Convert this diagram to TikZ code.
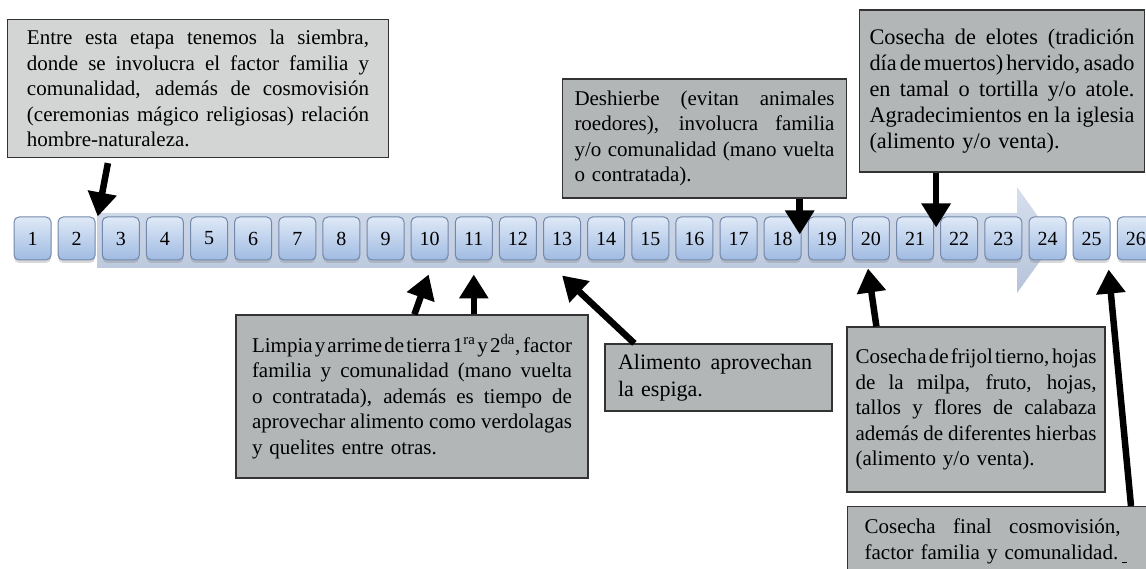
\documentclass[tikz,border=0pt]{standalone}
\usepackage{fontspec}
\setmainfont{Liberation Serif}
\usetikzlibrary{positioning,calc,arrows.meta,shadows}
\setlength{\parindent}{0pt}
\definecolor{numtop}{HTML}{DFE9F7}
\definecolor{numbot}{HTML}{A0BBE2}
\definecolor{numline}{HTML}{7388AA}
\definecolor{notefill}{HTML}{B3B6B7}
\definecolor{entrefill}{HTML}{D3D4D4}
\definecolor{notedraw}{HTML}{333333}
\definecolor{bandtop}{HTML}{D6DFEE}
\definecolor{bandbot}{HTML}{B6C3D9}
% one justified line of a note
\newcommand{\jline}[2][\hsize]{{\spaceskip=.25em plus 1em minus .22em\makebox[#1][s]{#2}}\\}

\begin{document}
\begin{tikzpicture}[x=1pt,y=-1pt,node distance=44.13pt,
	num/.style = {draw=numline, line width=1pt, rounded corners=5pt, top color=numtop, bottom color=numbot,
		minimum width=37pt, minimum height=43pt, inner sep=0pt, font=\fontsize{20pt}{24pt}\selectfont,
		drop shadow={shadow xshift=0pt, shadow yshift=-3pt, opacity=.3}},
	note/.style = {draw=notedraw, line width=1.2pt, fill=notefill, align=left, inner ysep=4pt,
		font=\fontsize{21pt}{25.5pt}\selectfont},
	pointer/.style = {line width=6.5pt, -{Triangle[width=28pt,length=24pt]}}]
	\useasboundingbox (0,0) rectangle (1146,569);
	\clip (0,0) rectangle (1146,569);
	% big arrow behind the weeks
	\shade[top color=bandtop, bottom color=bandbot] (97,213) -- (1017,213) -- (1017,187) -- (1055,240.5)
		-- (1017,293) -- (1017,268) -- (97,268) -- cycle;
	% weeks
	\node[num] (1) at (32.5,238.5) {1};
	\node[num] (2) [right of=1] {2};
	\node[num] (3) [right of=2] {3};
	\node[num] (4) [right of=3] {4};
	\node[num] (5) [right of=4] {5};
	\node[num] (6) [right of=5] {6};
	\node[num] (7) [right of=6] {7};
	\node[num] (8) [right of=7] {8};
	\node[num] (9) [right of=8] {9};
	\node[num] (10) [right of=9] {10};
	\node[num] (11) [right of=10] {11};
	\node[num] (12) [right of=11] {12};
	\node[num] (13) [right of=12] {13};
	\node[num] (14) [right of=13] {14};
	\node[num] (15) [right of=14] {15};
	\node[num] (16) [right of=15] {16};
	\node[num] (17) [right of=16] {17};
	\node[num] (18) [right of=17] {18};
	\node[num] (19) [right of=18] {19};
	\node[num] (20) [right of=19] {20};
	\node[num] (21) [right of=20] {21};
	\node[num] (22) [right of=21] {22};
	\node[num] (23) [right of=22] {23};
	\node[num] (24) [right of=23] {24};
	\node[num] (25) [right of=24] {25};
	\node[num] (26) [right of=25] {26};
	% notes
	\node[note, fill=entrefill, text width=342pt, inner xsep=19.5pt, minimum height=138pt] (entre) at (198,88.5)
		{\jline{Entre esta etapa tenemos la siembra,}\jline{donde se involucra el factor familia y}\jline{comunalidad, además de cosmovisión}\jline{(ceremonias mágico religiosas) relación}hombre-naturaleza.};
	\node[note, text width=260pt, inner xsep=12pt, minimum height=119pt] (deshierbe) at (704.5,138.5)
		{\jline{Deshierbe (evitan animales}\jline{roedores), involucra familia}\jline{y/o comunalidad (mano vuelta}o contratada).};
	\node[note, text width=265pt, inner xsep=10pt, minimum height=162pt, font=\fontsize{22.3pt}{26pt}\selectfont] (elotes) at (1002,91)
		{\jline{Cosecha de elotes (tradición}\jline{día de muertos) hervido, asado}\jline{en tamal o tortilla y/o atole.}\jline{Agradecimientos en la iglesia}(alimento y/o venta).};
	\node[note, text width=320pt, inner xsep=16pt, minimum height=163pt] (limpia) at (412,396.5)
		{\jline{Limpia y arrime de tierra 1\textsuperscript{ra} y 2\textsuperscript{da}, factor}\jline{familia y comunalidad (mano vuelta}\jline{o contratada), además es tiempo de}\jline{aprovechar alimento como verdolagas}y quelites entre otras.};
	\node[note, text width=201pt, inner xsep=13pt, minimum height=67pt, font=\fontsize{22pt}{27pt}\selectfont] (alimento) at (718.5,377.5)
		{\jline[194pt]{Alimento aprovechan}la espiga.};
	\node[note, text width=241pt, inner xsep=8.5pt, minimum height=165pt] (frijol) at (976,409.5)
		{\jline{Cosecha de frijol tierno, hojas}\jline{de la milpa, fruto, hojas,}\jline{tallos y flores de calabaza}\jline{además de diferentes hierbas}(alimento y/o venta).};
	\node[note, text width=290pt, inner xsep=17pt, minimum height=70pt, anchor=north west] (final) at (847,506)
		{\jline[256pt]{Cosecha final cosmovisión,}factor familia y comunalidad.\,\rule[-3pt]{5pt}{.7pt}};
	% pointers
	\draw[pointer] ($(entre.south west)+(101,5)$) -- ($(3.north west)+(-4,0)$);
	\draw[pointer] ($(deshierbe.south -| 18.east)+(-2,0)$) -- ($(18.north east)+(-2,18)$);
	\draw[pointer] ($(elotes.south -| 21.east)+(2,0)$) -- ($(21.north east)+(2,11)$);
	\draw[pointer] ($(limpia.north west)+(179,0)$) -- ($(10.south)+(-1,14)$);
	\draw[pointer] (limpia.north -| 11.south) -- ($(11.south)+(0,14)$);
	\draw[pointer] ($(alimento.north west)+(30,0)$) -- ($(13.south)+(0,15)$);
	\draw[pointer] ($(frijol.north west)+(30,0)$) -- ($(20.south)+(-3,8)$);
	\draw[pointer] ($(final.north west)+(284,0)$) -- ($(25.south east)+(-2,9)$);
\end{tikzpicture}
\end{document}
